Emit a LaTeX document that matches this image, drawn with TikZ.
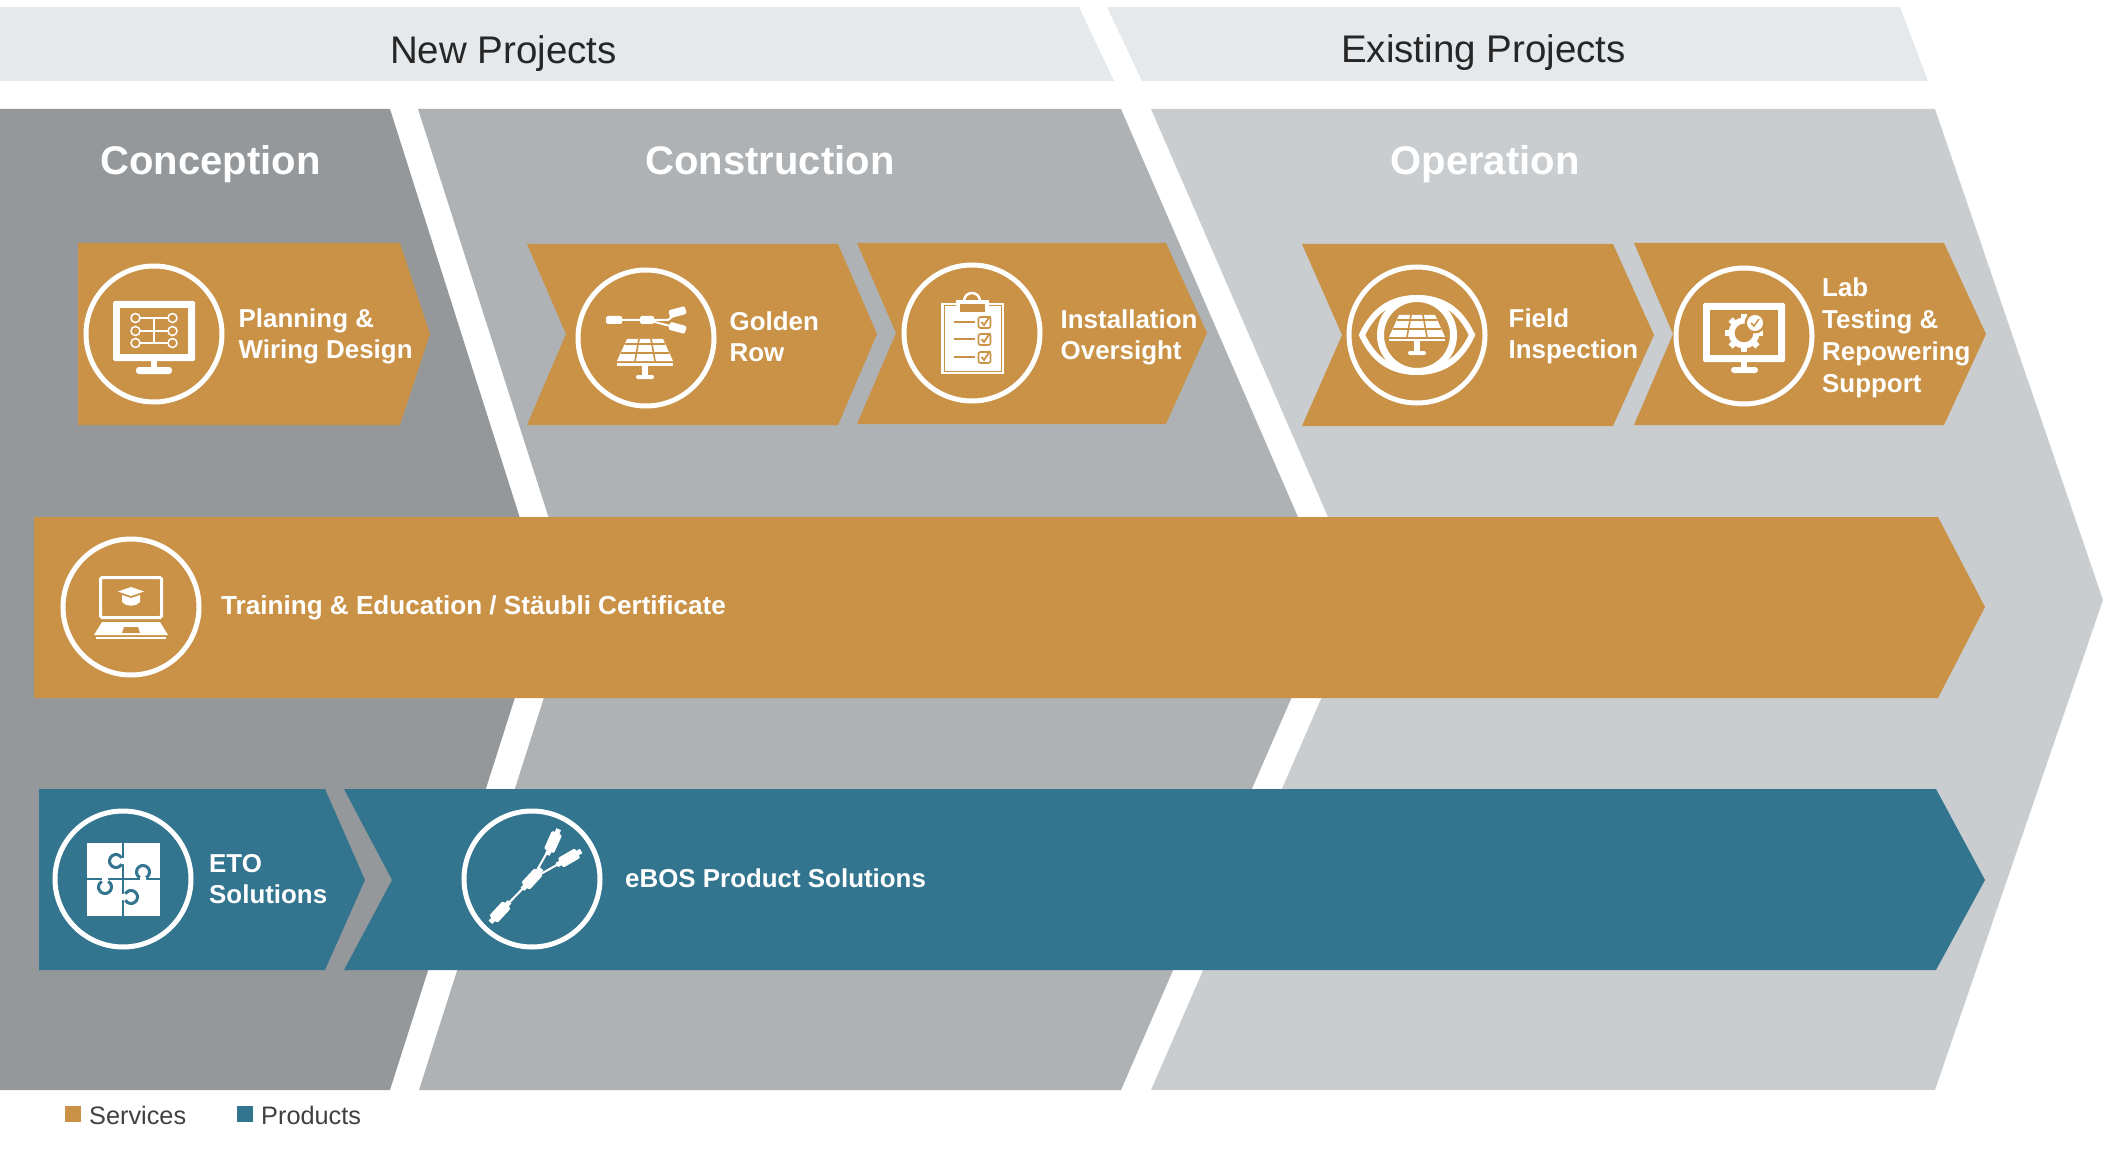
\documentclass[tikz,border=0pt]{standalone}
\usepackage{fontspec}
\setmainfont{Liberation Sans}
\definecolor{gold}{HTML}{C99247}
\definecolor{teal}{HTML}{33758F}
\definecolor{conc}{HTML}{94989B}
\definecolor{cons}{HTML}{AEB2B5}
\definecolor{oper}{HTML}{C9CDD0}
\definecolor{top}{HTML}{E6E9EB}
\tikzset{
  ring/.style={draw=white,line width=5pt},
  label/.style={text=white,anchor=west,inner sep=0pt,align=left,font=\bfseries\fontsize{25.9}{31}\selectfont},
  phase/.style={text=white,anchor=base,inner sep=0pt,font=\bfseries\fontsize{40}{46}\selectfont},
  project/.style={text=black!85,anchor=base,inner sep=0pt,font=\fontsize{38.5}{45}\selectfont},
  legend/.style={text=black!75,anchor=west,inner sep=0pt,font=\fontsize{25.3}{30}\selectfont},
}
\newcommand{\solarpanel}[3]{%
  \begin{scope}[shift={(#1,#2)}]
    \fill[white] (-18,0)--(18,0)--(28,22)--(-28,22)--cycle;
    \draw[#3,line width=1.6pt] (-20,5)--(20,5) (-24,14)--(24,14) (-6,0)--(-10,22) (6,0)--(10,22);
    \fill[white] (-28,24) rectangle (28,26.5);
    \fill[white] (-3,26.5) rectangle (3,36);
    \fill[white,rounded corners=2pt] (-9,40)--(-9,36)--(9,36)--(9,40)--cycle;
  \end{scope}}
\newcommand{\cableplug}[3]{%
  \begin{scope}[shift={(#1,#2)},rotate=#3]
    \fill[white,rounded corners=2pt] (-10,-5.5) rectangle (10,5.5);
    \fill[white] (9,-2.5) rectangle (14,2.5);
    \fill[white] (-14,-2.5) rectangle (-9,2.5);
  \end{scope}}
\newcommand{\monitor}[2]{%
  \fill[white,rounded corners=1.5pt] (-41,#1) rectangle (41,#2);
  \fill[gold] (-34,#1+7) rectangle (34,#2-7);
  \fill[white] (-3,#2) rectangle (3,#2+6);}
\newcommand{\checkbox}[1]{%
  \draw[gold,line width=1.6pt,rounded corners=2pt] (6.5,#1-5) rectangle (18.5,#1+6);
  \draw[gold,line width=1.8pt] (9.5,#1) -- (12,#1+3) -- (18,#1-6);
  \draw[gold,line width=1.6pt] (-18,#1) -- (3,#1);}
\begin{document}
\begin{tikzpicture}[x=1pt,y=-1pt]
  \useasboundingbox (0,0) rectangle (2110,1174);
  % top bars
  \fill[top] (0,7)--(1079,7)--(1114,81)--(0,81)--cycle;
  \fill[top] (1107,7)--(1900,7)--(1928,81)--(1142,81)--cycle;
  \node[project] (newprojects) at (503.5,64) {New Projects};
  \node[project] (existingprojects) at (1483.5,63) {Existing Projects};
  % phases
  \fill[conc] (0,109)--(390,109)--(546,600)--(390,1090)--(0,1090)--cycle;
  \fill[cons] (418,109)--(1121,109)--(1334,600)--(1121,1090)--(419,1090)--(575,600)--cycle;
  \fill[oper] (1151,109)--(1935,109)--(2103,600)--(1935,1090)--(1151,1090)--(1364,600)--cycle;
  \node[phase] (conception) at (210.5,175) {Conception};
  \node[phase] (construction) at (770,175) {Construction};
  \node[phase] (operation) at (1485,175) {Operation};
  % service arrows
  \fill[gold] (78,243)--(400,243)--(430,334)--(400,425)--(78,425)--cycle;
  \fill[gold] (527,244)--(838,244)--(877,334)--(838,425)--(527,425)--(566,334)--cycle;
  \fill[gold] (857,243)--(1166,243)--(1207,333)--(1166,424)--(857,424)--(896,333)--cycle;
  \fill[gold] (1302,244)--(1613,244)--(1654,335)--(1613,426)--(1302,426)--(1342,335)--cycle;
  \fill[gold] (1634,243)--(1944,243)--(1986,334)--(1944,425)--(1634,425)--(1673,334)--cycle;
  \fill[gold] (34,517)--(1938,517)--(1985,607)--(1938,698)--(34,698)--cycle;
  % product arrows
  \fill[teal] (39,789)--(325,789)--(365,880)--(325,970)--(39,970)--cycle;
  \fill[teal] (344,789)--(1936,789)--(1985,880)--(1936,970)--(344,970)--(392,880)--cycle;
  % rings
  \draw[ring] (154,334) circle (68);
  \draw[ring] (646,338) circle (68);
  \draw[ring] (972,333) circle (68);
  \draw[ring] (1417,335) circle (68);
  \draw[ring] (1744,336) circle (68);
  \draw[ring] (131,607) circle (68);
  \draw[ring] (123,879) circle (68);
  \draw[ring] (532,879) circle (68);
  % wiring icon
  \begin{scope}[shift={(154,334)}]
    \monitor{-33}{27}
    \fill[white,rounded corners=3pt] (-18,40)--(-18,33)--(18,33)--(18,40)--cycle;
    \draw[white,line width=1.5pt] (-14,-16)--(14,-16) (-14,-3)--(14,-3) (-14,9)--(14,9) (0,-16)--(0,9);
    \foreach \yy in {-16,-3,9} {
      \draw[white,line width=1.5pt] (-18.5,\yy) circle (4.5) (18.5,\yy) circle (4.5);
    }
  \end{scope}
  % golden row icon
  \begin{scope}[shift={(646,338)}]
    \draw[white,line width=2pt] (-30,-18)--(22,-18)--(32,-26) (1,-18)--(32,-10);
    \fill[white,rounded corners=1.5pt] (-40,-22) rectangle (-24,-14);
    \fill[white,rounded corners=1.5pt] (-6,-22) rectangle (8,-14);
    \fill[white,rounded corners=1.5pt,rotate around={15:(32,-26)}] (23,-30) rectangle (40,-22);
    \fill[white,rounded corners=1.5pt,rotate around={-15:(32,-10)}] (23,-14) rectangle (40,-6);
  \end{scope}
  \solarpanel{645}{339}{gold}
  % clipboard icon
  \begin{scope}[shift={(972,333)}]
    \fill[white] (-31,-30) rectangle (32,41);
    \draw[gold,line width=1pt] (-28,-27) rectangle (29,38);
    \fill[white] (-16,-33) rectangle (17,-19);
    \draw[white,line width=2.5pt] (-8,-32) arc[start angle=180,end angle=360,radius=8];
    \fill[gold] (-12,-29) rectangle (13,-21);
    \checkbox{-11}
    \checkbox{6}
    \checkbox{24}
  \end{scope}
  % inspection icon
  \begin{scope}[shift={(1417,335)}]
    \draw[white,line width=6pt] (-55,0) .. controls (-42,-28) and (-22,-37) .. (0,-37) .. controls (22,-37) and (42,-28) .. (55,0) .. controls (42,28) and (22,37) .. (0,37) .. controls (-22,37) and (-42,28) .. (-55,0) -- cycle;
    \draw[white,line width=7pt] (0,0) circle (36.5);
  \end{scope}
  \solarpanel{1417}{315}{gold}
  % lab icon
  \begin{scope}[shift={(1744,336)}]
    \monitor{-33}{26}
    \fill[white,rounded corners=3pt] (-13,37)--(-13,31)--(14,31)--(14,37)--cycle;
    \draw[white,line width=6pt] (0,-3) circle (12.5);
    \foreach \a in {0,45,...,315} {
      \fill[white,rotate around={\a:(0,-3)}] (-3,-3-19) rectangle (3,-3-13);
    }
    \fill[gold] (11,-13) circle (10.5);
    \fill[white] (11,-13) circle (8);
    \draw[gold,line width=1.5pt] (7,-13)--(10,-10)--(15,-17);
  \end{scope}
  % training icon
  \begin{scope}[shift={(131,607)}]
    \draw[white,line width=3pt,rounded corners=1.5pt] (-30.5,-29.5) rectangle (30.5,10.5);
    \fill[white] (-13,-15.5)--(0,-20)--(13,-15.5)--(0,-11)--cycle;
    \fill[white] (-9,-12) -- (0,-9) -- (9,-12) -- (9,-5) .. controls (5,0) and (-5,0) .. (-9,-5) -- cycle;
    \fill[white] (-29,15)--(29,15)--(37,28)--(-37,28)--cycle;
    \fill[gold] (-7,20)--(7,20)--(9,26)--(-9,26)--cycle;
    \fill[white] (-35,29.5) rectangle (35,32);
  \end{scope}
  % puzzle icon
  \begin{scope}[shift={(123,879)},puzzlearc/.style={draw=teal,line width=3pt}]
    \fill[white] (-36,-36) rectangle (37,37);
    \draw[teal,line width=1.5pt] (0,-36)--(0,37) (-36,0)--(37,0);
    \fill[white] (-4,-21) rectangle (2,-15) (17,-3) rectangle (23,2) (-21,-2) rectangle (-15,3) (-2,15) rectangle (4,21);
    \draw[puzzlearc] (-7,-18) ++(30:6.5) arc[start angle=30,end angle=330,radius=6.5];
    \draw[puzzlearc] (20,-7) ++(120:6.5) arc[start angle=120,end angle=420,radius=6.5];
    \draw[puzzlearc] (-18,8) ++(300:6.5) arc[start angle=300,end angle=600,radius=6.5];
    \draw[puzzlearc] (8,18) ++(210:6.5) arc[start angle=210,end angle=510,radius=6.5];
  \end{scope}
  % cable icon
  \begin{scope}[shift={(532,879)}]
    \draw[white,line width=2pt] (-32,33)--(0,0)--(21,-37) (0,0)--(37,-21);
    \cableplug{-32}{33}{47}
    \cableplug{0}{0}{47}
    \cableplug{21}{-37}{66}
    \cableplug{37}{-21}{30}
  \end{scope}
  % labels
  \node[label] (planning) at (238.5,336) {Planning \&\\Wiring Design};
  \node[label] (golden) at (729.5,337) {Golden\\Row};
  \node[label] (installation) at (1060.5,337) {Installation\\Oversight};
  \node[label] (field) at (1508.5,336) {Field\\Inspection};
  \node[label,font=\bfseries\fontsize{25.9}{32}\selectfont] (lab) at (1822,338) {Lab\\Testing \&\\Repowering\\Support};
  \node[label,font=\bfseries\fontsize{26.1}{32}\selectfont] (training) at (221,608) {Training \& Education / Stäubli Certificate};
  \node[label] (eto) at (209,879) {ETO\\Solutions};
  \node[label] (ebos) at (625,878) {eBOS Product Solutions};
  % legend
  \fill[gold] (65,1106) rectangle (81,1122);
  \fill[teal] (237,1106) rectangle (253,1122);
  \node[legend] (services) at (89,1115) {Services};
  \node[legend] (products) at (261,1115) {Products};
\end{tikzpicture}
\end{document}
